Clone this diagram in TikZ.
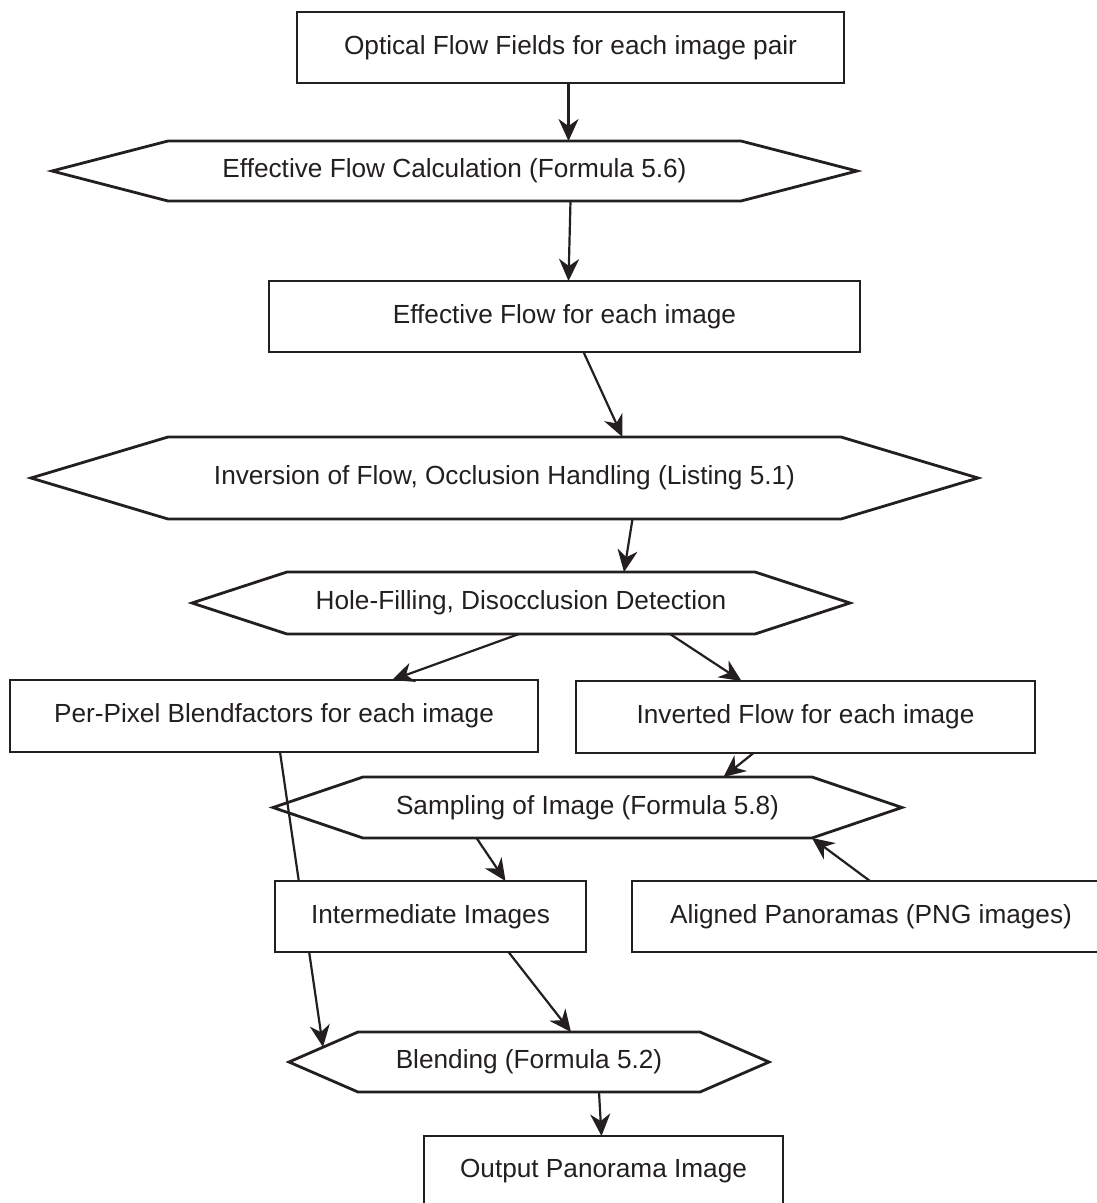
\documentclass[tikz,border=0pt]{standalone}
\usepackage{fontspec}
\setmainfont{Liberation Sans}
\usetikzlibrary{arrows.meta, calc, backgrounds}
\definecolor{inkblack}{RGB}{35, 31, 32}
% hexagon outline around a plain text node, #2 = length of the side points
\newcommand{\hexframe}[2]{%
  \draw[frameline] (#1.north west) -- (#1.north east) -- ([xshift=#2]#1.east)
    -- (#1.south east) -- (#1.south west) -- ([xshift=-#2]#1.west) -- cycle;}

\begin{document}
\begin{tikzpicture}[
    x=1pt, y=-1pt,
    labelfont/.style={font=\fontsize{26.2pt}{30pt}\selectfont, text=inkblack},
    frameline/.style={draw=inkblack, line width=2.8pt, line join=miter},
    procbox/.style={rectangle, frameline, fill=white, inner sep=0pt, outer sep=0pt, align=center, labelfont},
    calcstep/.style={rectangle, inner sep=0pt, outer sep=0pt, align=center, labelfont},
    flow/.style={draw=inkblack, line width=2.2pt, -{Stealth[length=22pt, width=20pt, inset=7pt]}}
  ]
  \useasboundingbox (0,0) rectangle (1097,1203);
  \clip (0,0) rectangle (1097,1203);

  % Flow fields
  \node[procbox, minimum width=547pt, minimum height=71pt] (flowfields) at (570.5,47.5) {Optical Flow Fields for each image pair};
  \node[calcstep, minimum width=573pt, minimum height=60pt] (effcalc) at (454.5,171) {Effective Flow Calculation (Formula 5.6)};
  \hexframe{effcalc}{116pt}
  \node[procbox, minimum width=591pt, minimum height=71pt] (effflow) at (564.5,316.5) {Effective Flow for each image};

  % Inversion
  \node[calcstep, minimum width=673pt, minimum height=82pt] (inversion) at (504.5,478) {Inversion of Flow, Occlusion Handling (Listing 5.1)};
  \hexframe{inversion}{137pt}
  \node[calcstep, minimum width=468pt, minimum height=62pt] (holefill) at (521,603) {Hole-Filling, Disocclusion Detection};
  \hexframe{holefill}{95pt}
  \node[procbox, minimum width=528pt, minimum height=72pt] (blendfac) at (274,716) {Per-Pixel Blendfactors for each image};
  \node[procbox, minimum width=459pt, minimum height=72pt] (invflow) at (805.5,717) {Inverted Flow for each image};

  % Sampling and blending
  \node[calcstep, minimum width=449pt, minimum height=61pt] (sampling) at (587.5,807.5) {Sampling of Image (Formula 5.8)};
  \hexframe{sampling}{90pt}
  \node[procbox, minimum width=311pt, minimum height=71pt] (intermed) at (430.5,916.5) {Intermediate Images};
  \node[procbox, minimum width=478pt, minimum height=71pt] (aligned) at (871,916.5) {Aligned Panoramas (PNG images)};
  \node[calcstep, minimum width=342pt, minimum height=60pt] (blending) at (529,1062) {Blending (Formula 5.2)};
  \hexframe{blending}{69pt}
  \node[procbox, minimum width=359pt, minimum height=71pt] (output) at (603.5,1171.5) {Output Panorama Image};

  % Connectors
  \draw[flow] ([xshift=-2pt]flowfields.south) -- ([xshift=114pt]effcalc.north);
  \draw[flow] ([xshift=116pt]effcalc.south) -- ([xshift=4pt]effflow.north);
  \draw[flow] ([xshift=19pt]effflow.south) -- ([xshift=118pt]inversion.north);
  \draw[flow] ([xshift=128pt]inversion.south) -- ([xshift=103pt]holefill.north);
  \draw[flow] ([xshift=-2pt]holefill.south) -- ([xshift=118pt]blendfac.north);
  \draw[flow] ([xshift=149pt]holefill.south) -- ([xshift=-64pt]invflow.north);
  \draw[flow] ([xshift=-52pt]invflow.south) -- ([xshift=136pt]sampling.north);
  \draw[flow] ([xshift=-111pt]sampling.south) -- ([xshift=75pt]intermed.north);
  \draw[flow] ([xshift=-1pt]aligned.north) -- (sampling.south east);
  \draw[flow] ([xshift=78pt]intermed.south) -- ([xshift=42pt]blending.north);
  \draw[flow] ([xshift=70pt]blending.south) -- ([xshift=-2pt]output.north);
  \begin{scope}[on background layer]
    \draw[flow] ([xshift=6pt]blendfac.south) -- ([xshift=-35pt, yshift=15pt]blending.west);
  \end{scope}
\end{tikzpicture}
\end{document}
